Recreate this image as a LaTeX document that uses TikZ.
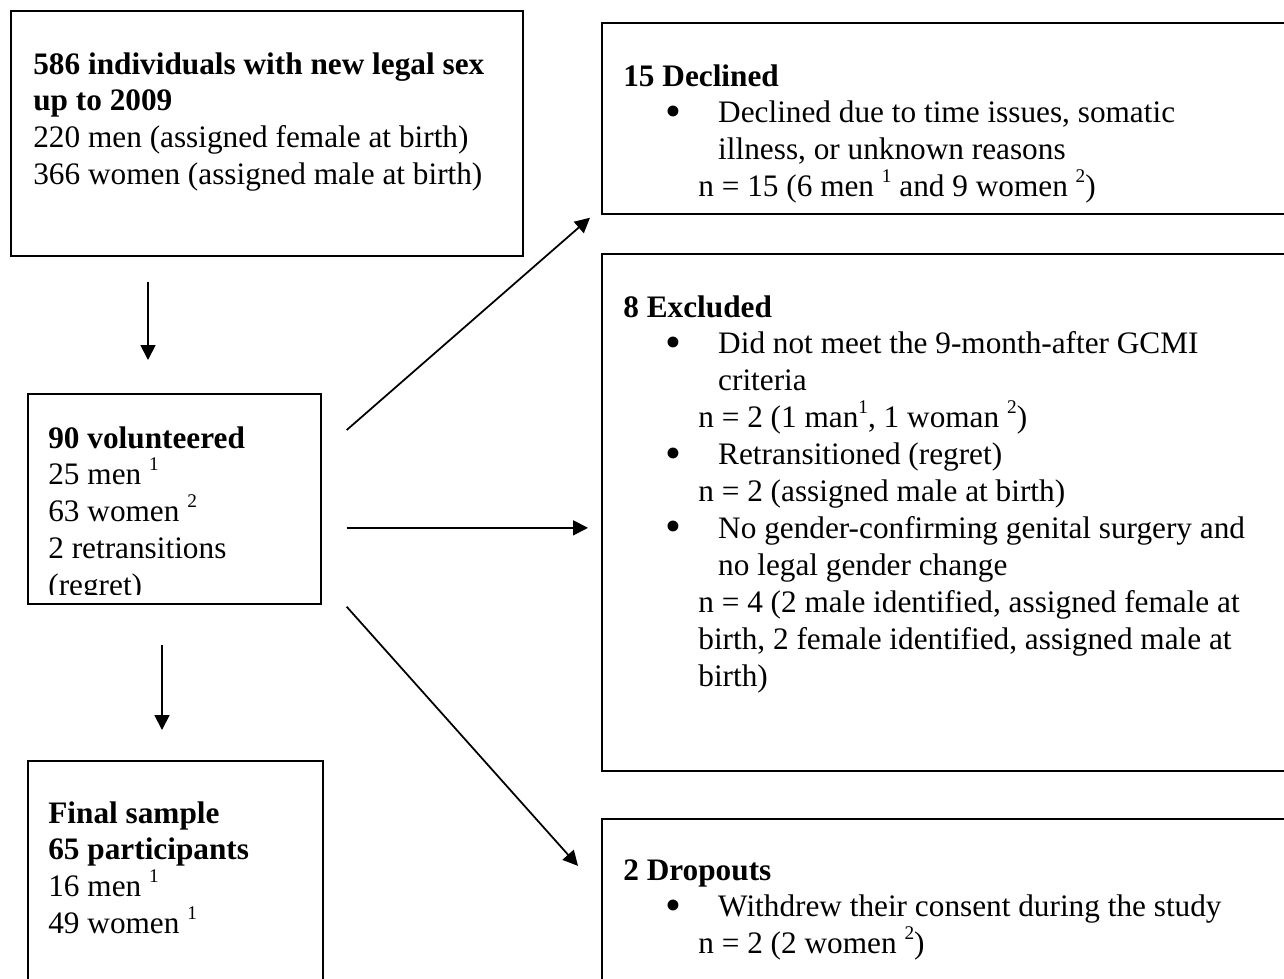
\documentclass[tikz,border=0pt]{standalone}
\usepackage{fontspec}
\setmainfont{Liberation Serif}
\usetikzlibrary{arrows.meta, positioning, calc}

\newcommand{\bul}[1]{\hspace*{24pt}\makebox[30pt][l]{\raisebox{-0.11em}{\scalebox{1.45}{\textbullet}}}#1}
\newcommand{\cnt}[1]{\hspace*{54pt}#1}
\newcommand{\nln}[1]{\hspace*{42.7pt}#1}
\newcommand{\sps}[1]{\raisebox{0.45em}{\fontsize{11}{11}\selectfont #1}}

\begin{document}
\begin{tikzpicture}[x=0.02cm, y=-0.02cm,
  box/.style={draw, line width=1pt, inner sep=0pt, anchor=north west},
  txt/.style={anchor=north west, inner sep=0pt, align=left, font=\fontsize{17.8}{21}\selectfont},
  arr/.style={line width=1pt, -{Triangle[length=8.5pt, width=8.5pt]}}]
  \clip (0,0) rectangle (1284,978);

  % left column
  \node[box, minimum width=10.24cm, minimum height=4.9cm] (pop) at (10,10) {};
  \node[txt] (poptxt) at ([shift={(23,42)}]pop.north west)
    {\textbf{586 individuals with new legal sex}\\ \textbf{up to 2009}\\
     220 men (assigned female at birth)\\ 366 women (assigned male at birth)};

  \node[box, minimum width=5.86cm, minimum height=4.2cm] (vol) at (27,393) {};
  \begin{scope}
    \clip (vol.north west) rectangle ([shift={(0,-10)}]vol.south east);
    \node[txt] (voltxt) at ([shift={(21,33)}]vol.north west)
      {\textbf{90 volunteered}\\ 25 men \sps{1}\\ 63 women \sps{2}\\
       2 retransitions\\ (regret)};
  \end{scope}

  \node[box, minimum width=5.9cm, minimum height=4.8cm] (final) at (27,760) {};
  \node[txt] (finaltxt) at ([shift={(21,41)}]final.north west)
    {\textbf{Final sample}\\ \textbf{65 participants}\\ 16 men \sps{1}\\ 49 women \sps{1}};

  % right column
  \node[box, minimum width=13.98cm, minimum height=3.82cm] (decl) at (601,22) {};
  \node[txt] (decltxt) at ([shift={(22,42)}]decl.north west)
    {\textbf{15 Declined}\\
     \bul{Declined due to time issues, somatic}\\
     \cnt{illness, or unknown reasons}\\
     \nln{n = 15 (6 men \sps{1} and 9 women \sps{2})}};

  \node[box, minimum width=13.98cm, minimum height=10.34cm] (excl) at (601,253) {};
  \node[txt] (excltxt) at ([shift={(22,42)}]excl.north west)
    {\textbf{8 Excluded}\\
     \bul{Did not meet the 9-month-after GCMI}\\
     \cnt{criteria}\\
     \nln{n = 2 (1 man\sps{1}, 1 woman \sps{2})}\\
     \bul{Retransitioned (regret)}\\
     \nln{n = 2 (assigned male at birth)}\\
     \bul{No gender-confirming genital surgery and}\\
     \cnt{no legal gender change}\\
     \nln{n = 4 (2 male identified, assigned female at}\\
     \nln{birth, 2 female identified, assigned male at}\\
     \nln{birth)}};

  \node[box, minimum width=13.98cm, minimum height=3.64cm] (drop) at (601,818) {};
  \node[txt] (droptxt) at ([shift={(22,41)}]drop.north west)
    {\textbf{2 Dropouts}\\
     \bul{Withdrew their consent during the study}\\
     \nln{n = 2 (2 women \sps{2})}};

  % connectors
  \coordinate (popout) at ([shift={(138,25)}]pop.south west);
  \coordinate (volin) at ([shift={(121,-33)}]vol.north west);
  \coordinate (volout) at ([shift={(135,40)}]vol.south west);
  \coordinate (finalin) at ([shift={(135,-30)}]final.north west);
  \coordinate (toup) at ([shift={(25,37)}]vol.north east);
  \coordinate (tomid) at ([shift={(25,29)}]vol.east);
  \coordinate (todown) at ([shift={(25,2)}]vol.south east);
  \coordinate (exclin) at ([shift={(-13,0)}]excl.west);
  \draw[arr] (popout) -- (volin);
  \draw[arr] (volout) -- (finalin);
  \draw[arr] (toup) -- ([shift={(-11,3)}]decl.south west);
  \draw[arr] (tomid) -- (tomid -| exclin);
  \draw[arr] (todown) -- ([shift={(-23,-44)}]drop.west);
\end{tikzpicture}
\end{document}
